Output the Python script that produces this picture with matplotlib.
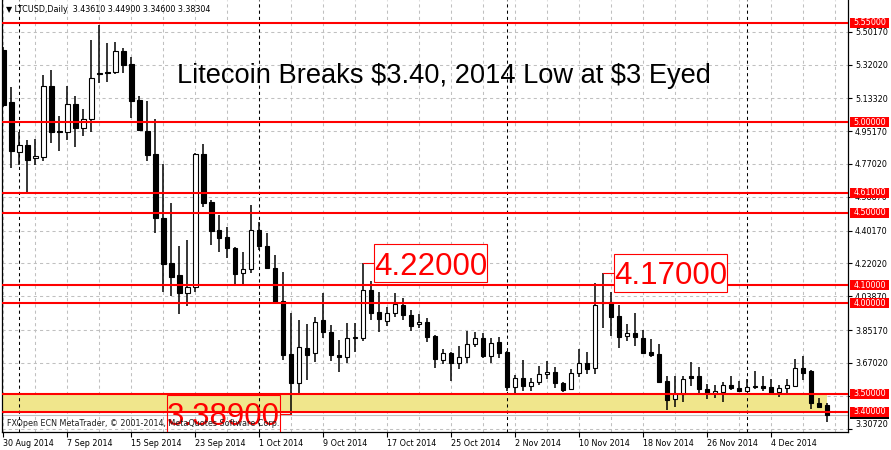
import numpy as np
import matplotlib.pyplot as plt
import matplotlib.transforms as mtransforms
from matplotlib.patches import Rectangle
from matplotlib.lines import Line2D

# LTCUSD daily candles, one per day from 30 Aug 2014 to 11 Dec 2014
opens = [5.401, 5.111, 4.835, 4.875, 4.801, 4.811, 5.202, 4.953, 4.949, 5.100,
         4.967, 5.017, 5.272, 5.277, 5.277, 5.395, 5.321, 5.124, 4.953, 4.825,
         4.473, 4.221, 4.156, 4.055, 4.092, 4.824, 4.558, 4.405, 4.368, 4.304,
         4.165, 4.188, 4.405, 4.317, 4.193, 4.012, 3.719, 3.557, 3.754, 3.723,
         3.907, 3.839, 3.714, 3.701, 3.810, 3.806, 4.071, 3.950, 3.902, 3.944,
         3.990, 3.935, 3.883, 3.898, 3.819, 3.686, 3.723, 3.668, 3.701, 3.773,
         3.806, 3.708, 3.784, 3.732, 3.535, 3.585, 3.544, 3.562, 3.607, 3.621,
         3.557, 3.524, 3.616, 3.671, 3.640, 4.009, 4.009, 3.929, 3.819, 3.833,
         3.810, 3.728, 3.717, 3.570, 3.468, 3.496, 3.598, 3.598, 3.524, 3.505,
         3.511, 3.548, 3.529, 3.516, 3.542, 3.542, 3.535, 3.511, 3.529, 3.542,
         3.644, 3.625, 3.450, 3.43610]
highs = [5.419, 5.198, 4.949, 4.903, 4.908, 5.262, 5.290, 5.036, 5.202, 5.146,
         5.072, 5.456, 5.539, 5.437, 5.447, 5.410, 5.364, 5.146, 5.118, 5.017,
         4.768, 4.553, 4.318, 4.350, 4.829, 4.879, 4.571, 4.488, 4.420, 4.313,
         4.285, 4.543, 4.451, 4.387, 4.267, 4.175, 3.944, 3.907, 3.883, 3.922,
         4.058, 3.880, 3.797, 3.889, 3.889, 4.220, 4.125, 4.060, 3.977, 4.055,
         4.031, 3.963, 3.939, 3.916, 3.824, 3.747, 3.728, 3.765, 3.846, 3.843,
         3.833, 3.810, 3.815, 3.736, 3.603, 3.686, 3.588, 3.655, 3.682, 3.649,
         3.566, 3.634, 3.745, 3.728, 4.114, 4.170, 4.060, 3.990, 3.883, 3.948,
         3.852, 3.802, 3.773, 3.598, 3.598, 3.598, 3.673, 3.645, 3.553, 3.548,
         3.566, 3.598, 3.570, 3.579, 3.625, 3.598, 3.579, 3.548, 3.579, 3.692,
         3.708, 3.631, 3.478, 3.44900]
lows = [5.087, 4.746, 4.765, 4.608, 4.765, 4.789, 4.888, 4.844, 4.903, 4.866,
        4.925, 4.949, 5.220, 5.225, 5.266, 5.272, 5.023, 4.953, 4.789, 4.387,
        4.064, 4.040, 3.939, 3.987, 4.064, 4.534, 4.322, 4.285, 4.248, 4.101,
        4.101, 4.165, 4.294, 4.189, 4.005, 3.686, 3.389, 3.502, 3.575, 3.677,
        3.810, 3.680, 3.621, 3.671, 3.732, 3.791, 3.907, 3.839, 3.876, 3.926,
        3.907, 3.846, 3.861, 3.787, 3.644, 3.662, 3.570, 3.634, 3.671, 3.760,
        3.695, 3.668, 3.695, 3.516, 3.505, 3.516, 3.516, 3.548, 3.579, 3.533,
        3.511, 3.522, 3.594, 3.609, 3.609, 3.861, 3.821, 3.751, 3.793, 3.765,
        3.717, 3.704, 3.561, 3.409, 3.428, 3.456, 3.544, 3.505, 3.470, 3.474,
        3.456, 3.520, 3.511, 3.511, 3.526, 3.514, 3.502, 3.483, 3.502, 3.542,
        3.575, 3.413, 3.428, 3.34600]
closes = [5.096, 4.844, 4.875, 4.792, 4.814, 5.202, 4.949, 4.949, 5.100, 4.967,
          5.017, 5.244, 5.266, 5.272, 5.395, 5.318, 5.120, 4.958, 4.820, 4.470,
          4.217, 4.147, 4.055, 4.092, 4.824, 4.556, 4.401, 4.363, 4.304, 4.160,
          4.188, 4.405, 4.317, 4.193, 4.009, 3.714, 3.557, 3.760, 3.714, 3.894,
          3.839, 3.714, 3.701, 3.806, 3.815, 4.071, 3.948, 3.911, 3.944, 3.994,
          3.935, 3.876, 3.898, 3.815, 3.690, 3.723, 3.668, 3.701, 3.773, 3.806,
          3.710, 3.782, 3.723, 3.535, 3.585, 3.544, 3.562, 3.607, 3.621, 3.557,
          3.520, 3.616, 3.671, 3.636, 3.990, 4.003, 3.926, 3.815, 3.833, 3.815,
          3.727, 3.714, 3.566, 3.465, 3.496, 3.579, 3.588, 3.524, 3.505, 3.514,
          3.548, 3.529, 3.516, 3.535, 3.535, 3.533, 3.505, 3.529, 3.548, 3.640,
          3.616, 3.446, 3.428, 3.38304]

date_labels = ['30 Aug 2014', '7 Sep 2014', '15 Sep 2014', '23 Sep 2014',
               '1 Oct 2014', '9 Oct 2014', '17 Oct 2014', '25 Oct 2014',
               '2 Nov 2014', '10 Nov 2014', '18 Nov 2014', '26 Nov 2014',
               '4 Dec 2014']
month_starts = [2, 32, 63, 93]   # bar index of 1 Sep, 1 Oct, 1 Nov, 1 Dec

price_grid = [5.5017, 5.3202, 5.1332, 4.9517, 4.7702, 4.5887, 4.4017,
              4.2202, 4.0387, 3.8517, 3.6702, 3.4887, 3.3072]
levels = [5.55, 5.00, 4.61, 4.50, 4.10, 4.00, 3.50, 3.40]
zone_low, zone_high = 3.40, 3.50
marked = [(45, 4.22, 1), (75, 4.17, 1), (36, 3.389, -1)]   # bar, price, side

title = 'Litecoin Breaks $3.40, 2014 Low at $3 Eyed'

plt.rcParams['font.family'] = ['DejaVu Sans']
small = 5.8
grid_col = '#c0c0c0'

fig = plt.figure(figsize=(8.91, 4.5), dpi=100)
ax = fig.add_axes([2 / 891, 18 / 450, 846 / 891, 432 / 450])
xmin, xmax = -0.16, 105.6
ax.set_xlim(xmin, xmax)
ax.set_ylim(3.288, 5.677)

n = len(opens)
x = np.arange(n)

# grid and period separators
ax.hlines(price_grid, xmin, xmax, colors=grid_col, lw=0.75, linestyles=(0, (3, 3)), zorder=0.3)
ax.vlines(np.arange(0, n + 1, 4), 3.288, 5.677, colors=grid_col, lw=0.75,
          linestyles=(0, (3, 3)), zorder=0.3)
ax.fill_between([xmin, n - 1], zone_low, zone_high, color='#f0e68c', lw=0, zorder=0.5)
ax.vlines(month_starts, 3.288, 5.677, colors='black', lw=0.75, linestyles=(0, (3, 3)), zorder=0.6)
ax.axhline(closes[-1], color=grid_col, lw=0.8, zorder=0.7)

# candles
ax.vlines(x, lows, highs, colors='black', lw=1.1, zorder=3)
for i in range(n):
    o, c = opens[i], closes[i]
    bot = min(o, c)
    h = max(abs(c - o), 0.0015)
    ax.add_patch(Rectangle((i - 0.28, bot), 0.56, h,
                           facecolor='white' if c > o else 'black',
                           edgecolor='black', lw=0.8, zorder=4))

# horizontal levels
ax.hlines(levels, xmin, xmax, colors='red', lw=1.5, zorder=5)

# spines and axes ticks
ax.spines['top'].set_visible(False)
for s in ('left', 'right', 'bottom'):
    ax.spines[s].set_linewidth(0.9)
ax.yaxis.tick_right()
ax.set_yticks(price_grid, labels=[f'{p:.5f}' for p in price_grid])
ax.tick_params(axis='y', length=3, width=0.8, pad=2, labelsize=small)
for lab in ax.get_yticklabels():
    if lab.get_text() == f'{price_grid[-1]:.5f}':
        lab.set_va('bottom')
ax.set_xticks(np.arange(len(date_labels)) * 8, labels=date_labels)
ax.tick_params(axis='x', length=3.5, width=0.8, pad=1.5, labelsize=small)
for lab in ax.get_xticklabels():
    lab.set_ha('left')

# price tags on the right axis
yaxis_tr = mtransforms.blended_transform_factory(ax.transAxes, ax.transData)
half = 5 / 180.8
tag_x0, tag_w = 1 + 2 / 846, 39 / 846
ax.add_patch(Rectangle((tag_x0, closes[-1] - half + 0.004), tag_w, 2 * half, transform=yaxis_tr,
                       facecolor='black', edgecolor='none', clip_on=False, zorder=9))
for lv in levels:
    ax.add_patch(Rectangle((tag_x0, lv - half), tag_w, 2 * half, transform=yaxis_tr,
                           facecolor='red', edgecolor='none', clip_on=False, zorder=10))
    ax.text(tag_x0 + tag_w / 2, lv, f'{lv:.5f}', transform=yaxis_tr, color='white',
            fontsize=small, ha='center', va='center', clip_on=False, zorder=11)

# price labels with leader lines
ident = mtransforms.IdentityTransform()
bw, bh, gap = 113, 38, 11
for k, p, side in marked:
    px, py = ax.transData.transform((k, p))
    if side > 0:
        x0 = px + gap
        near = x0
    else:
        x0 = px - gap - bw
        near = x0 + bw
    box = Rectangle((x0, py - bh / 2), bw, bh, transform=ident,
                    facecolor='white' if side > 0 else 'none', edgecolor='red', lw=0.8, zorder=6)
    ax.add_patch(box)
    ax.add_line(Line2D([px, near], [py, py], transform=ident, color='red', lw=0.8, zorder=6))
    ax.text(x0 + bw / 2, py, f'{p:.5f}', transform=ident, color='red', fontsize=22.5,
            family='Liberation Sans', ha='center', va='center_baseline',
            zorder=7, clip_on=True)

# header, title and footer text
fig.text(6 / 891, 1 - 10 / 450,
         f'\u25bc LTCUSD,Daily  {opens[-1]:.5f} {highs[-1]:.5f} {lows[-1]:.5f} {closes[-1]:.5f}',
         fontsize=small, va='center', ha='left')
fig.text(444 / 891, 1 - 83 / 450, title, fontsize=19.6, family='Liberation Sans',
         ha='center', va='baseline', parse_math=False)
fig.text(7 / 891, 1 - 423 / 450,
         'FXOpen ECN MetaTrader, \u00a9 2001-2014, MetaQuotes Software Corp.',
         fontsize=small, va='center', ha='left', color='#202020')

fig.savefig('out.png', dpi=100)
